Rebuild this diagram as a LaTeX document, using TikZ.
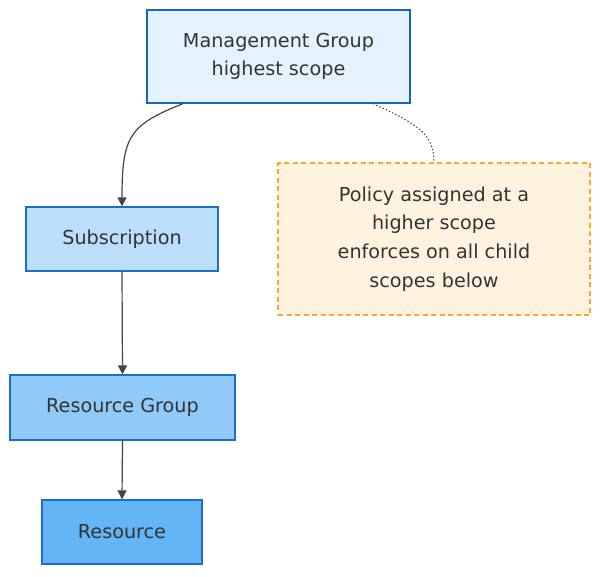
\documentclass[tikz,border=0pt]{standalone}
\usepackage{fontspec}
\setmainfont{DejaVu Sans}
\usetikzlibrary{arrows.meta}
\definecolor{txt}{HTML}{333333}
\definecolor{edge}{HTML}{444444}
\definecolor{mgfill}{HTML}{E3F2FD}
\definecolor{mgline}{HTML}{1565C0}
\definecolor{bline}{HTML}{1E6EC8}
\definecolor{subfill}{HTML}{BBDEFB}
\definecolor{rgfill}{HTML}{90CAF9}
\definecolor{resfill}{HTML}{64B5F6}
\definecolor{polfill}{HTML}{FFF3E0}
\definecolor{polline}{HTML}{FFA726}
\begin{document}
\begin{tikzpicture}[x=1pt,y=-1pt,
  box/.style={draw=#1, line width=1.2pt, inner sep=0pt, align=center, text=txt,
    font=\fontsize{19.2}{28.7}\selectfont},
  arr/.style={draw=edge, line width=1.2pt, -{Triangle[length=9pt,width=9pt]}},
  note/.style={draw=edge, line width=1pt, dash pattern=on 1.5pt off 2pt}]
\useasboundingbox (0,0) rectangle (600,576);
\node[box=mgline, fill=mgfill, minimum width=263pt, minimum height=93pt] (mg) at (278.5,56.5) {Management Group\\highest scope};
\node[box=bline, fill=subfill, minimum width=192pt, minimum height=64pt] (sub) at (122,239) {Subscription};
\node[box=bline, fill=rgfill, minimum width=225pt, minimum height=65pt] (rg) at (122.5,407.5) {Resource Group};
\node[box=bline, fill=resfill, minimum width=160pt, minimum height=64pt] (res) at (122,532) {Resource};
\node[box=polline, dash pattern=on 5pt off 3.5pt, fill=polfill, minimum width=312pt, minimum height=152pt] (pol) at (434,239) {Policy assigned at a\\higher scope\\enforces on all child\\scopes below};
\coordinate (mgl) at ([xshift=-95.5pt]mg.south);
\coordinate (mgr) at ([xshift=94.5pt]mg.south);
\draw[arr] (mgl) .. controls (130,125) and (122,135) .. (sub.north);
\draw[arr] (sub.south) -- (rg.north);
\draw[arr] (rg.south) -- (res.north);
\draw[note] (mgr) .. controls (420,125) and (434,135) .. (pol.north);
\end{tikzpicture}
\end{document}
